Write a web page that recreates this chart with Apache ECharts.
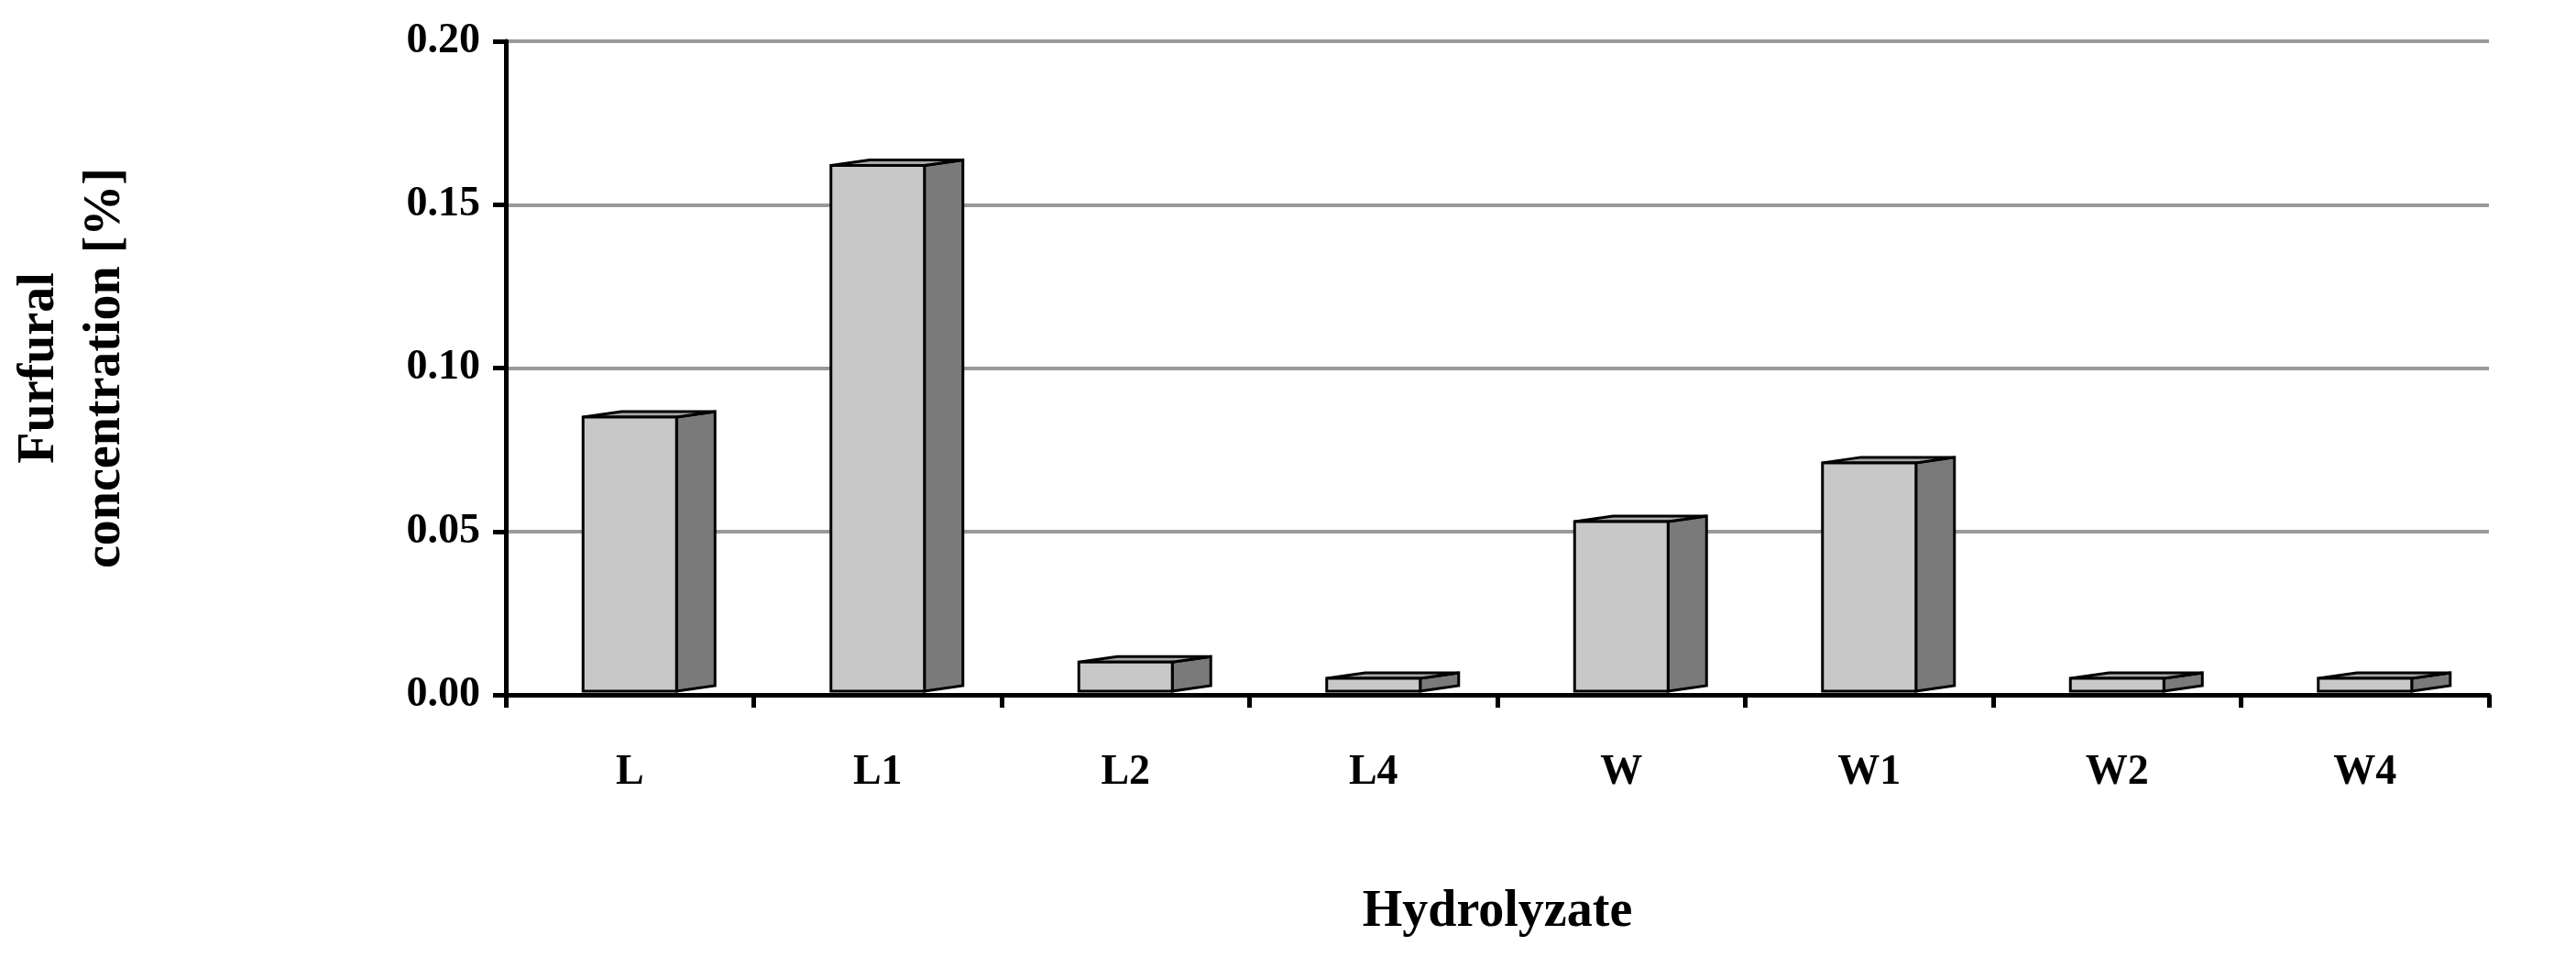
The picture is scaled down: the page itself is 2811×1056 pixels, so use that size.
<!DOCTYPE html>
<html><head><meta charset="utf-8">
<script src="https://cdn.jsdelivr.net/npm/echarts@6/dist/echarts.min.js"></script>
<style>html,body{margin:0;background:#fff}#c{width:2811px;height:1056px}</style>
</head><body><div id="c"></div>
<script>
const categories = ['L','L1','L2','L4','W','W1','W2','W4'];
const furfural = [0.085,0.162,0.010,0.001,0.053,0.071,0.004,0.001];
const yTicks = [0,0.05,0.10,0.15,0.20];
const font = 'Liberation Serif';
const chart = echarts.init(document.getElementById('c'));
chart.setOption({
  animation:false,
  backgroundColor:'#fff',
  grid:{left:534,right:95,top:45,bottom:298},
  xAxis:{type:'category',data:categories,
    axisLine:{lineStyle:{color:'#000',width:5}},
    axisTick:{show:true,length:14,lineStyle:{color:'#000',width:5},alignWithLabel:false},
    axisLabel:{fontFamily:font,fontWeight:'bold',fontSize:46,color:'#000',margin:62},
    name:'Hydrolyzate',nameLocation:'middle',nameGap:210,
    nameTextStyle:{fontFamily:font,fontWeight:'bold',fontSize:56,color:'#000'}},
  yAxis:{type:'value',min:0,max:0.2,interval:0.05,
    axisLine:{show:true,lineStyle:{color:'#000',width:5}},
    axisTick:{show:true,length:14,lineStyle:{color:'#000',width:5}},
    splitLine:{lineStyle:{color:'#999',width:4}},
    axisLabel:{fontFamily:font,fontWeight:'bold',fontSize:46,color:'#000',margin:28,
      formatter:v=>v.toFixed(2)},
    name:'Furfural\nconcentration [%]',nameLocation:'middle',nameGap:400,nameRotate:90,
    nameTextStyle:{fontFamily:font,fontWeight:'bold',fontSize:56,color:'#000',lineHeight:72}},
  series:[{type:'custom',data:furfural.map((v,i)=>[i,v]),
    renderItem:(params,api)=>{
      const i=api.value(0),v=api.value(1);
      const base=api.coord([i,0]),top=api.coord([i,v]);
      const w=102,d=42,dy=6;
      const x0=base[0]-w/2,x1=base[0]+w/2,y0=base[1]-4,y1=Math.min(top[1],y0-14);
      const st={stroke:'#000',lineWidth:3};
      return {type:'group',children:[
        {type:'polygon',shape:{points:[[x1,y0],[x1+d,y0-dy],[x1+d,y1-dy],[x1,y1]]},style:Object.assign({fill:'#7a7a7a'},st)},
        {type:'polygon',shape:{points:[[x0,y1],[x1,y1],[x1+d,y1-dy],[x0+d,y1-dy]]},style:Object.assign({fill:'#a8a8a8'},st)},
        {type:'rect',shape:{x:x0,y:y1,width:w,height:y0-y1},style:Object.assign({fill:'#c8c8c8'},st)}
      ]};
    }}]
});
</script></body></html>
